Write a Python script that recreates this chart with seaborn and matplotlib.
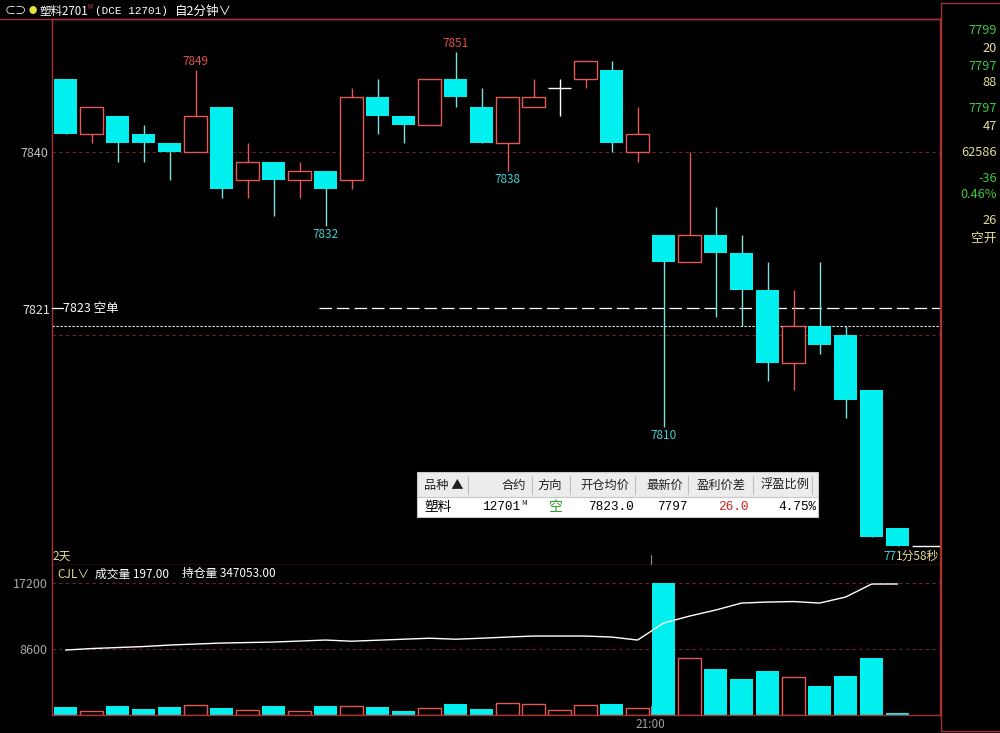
import matplotlib
matplotlib.use("Agg")
import matplotlib.pyplot as plt
import matplotlib.patches as patches
import matplotlib.lines as mlines
import seaborn as sns
import pandas as pd

# 2-minute candles, 塑料2701
opens = [7848, 7842, 7844, 7842, 7841, 7840, 7845, 7837, 7839, 7837, 7838, 7837, 7846, 7844, 7843, 7848, 7845,
         7841, 7845, 7847, 7848, 7849, 7840, 7831, 7828, 7831, 7829, 7825, 7817, 7821, 7820, 7814, 7799]
closes = [7842, 7845, 7841, 7841, 7840, 7844, 7836, 7839, 7837, 7838, 7836, 7846, 7844, 7843, 7848, 7846, 7841,
          7846, 7846, 7847, 7850, 7841, 7842, 7828, 7831, 7829, 7825, 7817, 7821, 7819, 7813, 7798, 7797]
highs = [7848, 7845, 7844, 7843, 7841, 7849, 7845, 7841, 7839, 7839, 7838, 7847, 7848, 7844, 7848, 7851, 7847,
         7846, 7848, 7848, 7850, 7850, 7845, 7831, 7840, 7834, 7831, 7828, 7825, 7828, 7821, 7814, 7799]
lows = [7842, 7841, 7839, 7839, 7837, 7840, 7835, 7835, 7833, 7835, 7832, 7836, 7842, 7841, 7843, 7845, 7841,
        7838, 7845, 7844, 7847, 7840, 7839, 7810, 7828, 7822, 7821, 7815, 7814, 7818, 7811, 7798, 7797]
volumes = [1040, 480, 1170, 780, 1040, 1300, 910, 610, 1170, 480, 1170, 1170, 1040, 560, 910, 1480, 780,
           1560, 1390, 650, 1300, 1430, 890, 17150, 7430, 5990, 4690, 5730, 4950, 3780, 5080, 7430, 197]
open_interest = [343090, 343180, 343240, 343300, 343390, 343450, 343510, 343540, 343570, 343630, 343690,
                 343620, 343680, 343740, 343800, 343740, 343800, 343870, 343930, 343930, 343930, 343870,
                 343690, 344710, 345130, 345490, 345910, 345970, 346000, 345910, 346270, 347050, 347053]

last_price = 7797
entry_price = 7823
dotted_price = 7821
price_grid = [7840, 7820]
vol_ticks = [8600, 17200]
session_tick = 22.5  # boundary before 21:00 bar

high_labels = {5: "7849", 15: "7851"}
low_labels = {10: "7832", 17: "7838", 23: "7810"}

quote_panel = [("7799", 31, "green"), ("20", 48, "yellow"), ("7797", 66, "green"), ("88", 83, "yellow"),
               ("7797", 108, "green"), ("47", 126, "yellow"), ("62586", 152, "yellow"),
               ("-36", 178, "green"), ("0.46%", 194, "green"), ("26", 220, "yellow"), ("空开", 238, "yellow")]

W, H = 1000, 733
CYAN = "#00f0f0"
CYAN_WICK = "#7fe0e0"
RED = "#e25a52"
FRAME = "#a83232"
GRID = "#7a2020"
GREEN = "#3cc83c"
YELLOW = "#e6dc96"
GRAY = "#c0c0c0"

sns.set_theme(style="dark", rc={"axes.facecolor": "black", "figure.facecolor": "black",
                                "savefig.facecolor": "black", "axes.grid": False})
plt.rcParams["font.family"] = ["Noto Sans CJK SC", "DejaVu Sans"]
plt.rcParams["axes.unicode_minus"] = False


def fx(x):
    return x / W


def fy(y):
    return 1 - y / H


df = pd.DataFrame({"i": range(len(opens)), "open": opens, "close": closes,
                   "high": highs, "low": lows, "vol": volumes, "oi": open_interest})

fig = plt.figure(figsize=(W / 100, H / 100), dpi=100)
ax = fig.add_axes([fx(52), fy(565), 888 / W, 546 / H])
vax = fig.add_axes([fx(52), fy(715), 888 / W, 150 / H])

for a in (ax, vax):
    a.set_facecolor("black")
    for s in a.spines.values():
        s.set_color(FRAME)
        s.set_linewidth(1)
    a.tick_params(length=0, colors=GRAY, labelsize=9, pad=3)

# price grid and reference lines
for p in price_grid:
    ax.axhline(p, color=GRID, lw=0.8, ls=(0, (3, 3)), zorder=1)
ax.axhline(dotted_price, color="white", lw=0.8, ls=(0, (2, 1.6)), zorder=1)
ax.plot([9.75, 33.63], [entry_price, entry_price], color="white", lw=0.9, ls=(0, (10, 4)), zorder=1)
ax.plot([-0.52, -0.1], [entry_price, entry_price], color="white", lw=0.9, zorder=3)
ax.text(-0.08, entry_price, "7823 空单", color="white", fontsize=9, va="center", ha="left")

# candles
bw = 0.885
for r in df.itertuples():
    if r.close > r.open:
        wick = RED
    elif r.close < r.open:
        wick = CYAN_WICK
    else:
        wick = "white"
    ax.vlines(r.i, r.low, r.high, color=wick, lw=1, zorder=2)
    if r.close > r.open:
        ax.bar(r.i, r.close - r.open, bottom=r.open, width=bw, facecolor="black",
               edgecolor=RED, lw=1, zorder=3)
    elif r.close < r.open:
        ax.bar(r.i, r.open - r.close, bottom=r.close, width=bw, color=CYAN, lw=0, zorder=3)
    else:
        ax.hlines(r.open, r.i - bw / 2, r.i + bw / 2, color="white", lw=1, zorder=3)

# current price stub
ax.hlines(last_price, len(opens) - bw / 2, len(opens) + 0.63, color="white", lw=1, zorder=3)

for i, t in high_labels.items():
    ax.annotate(t, (i, highs[i]), xytext=(0, 1.5), textcoords="offset points", ha="center",
                va="bottom", color="#e0504a", fontsize=8.5)
for i, t in low_labels.items():
    ax.annotate(t, (i, lows[i]), xytext=(0, -1.5), textcoords="offset points", ha="center",
                va="top", color="#40d0d0", fontsize=8.5)

ax.set_xlim(-0.52, 33.63)
ax.set_ylim(7794.93, 7854.57)
ax.set_xticks([])
ax.set_yticks([7840])
ax.set_yticklabels(["7840"])
ax.text(-0.6, 7822.7, "7821", color="#e0e0e0", fontsize=9, ha="right", va="center")
ax.plot([session_tick, session_tick], [0, 0.018], color="#909090", lw=0.8,
        transform=ax.get_xaxis_transform(), clip_on=False)
ax.text(0.0, 0.005, "2天", transform=ax.transAxes, color=YELLOW, fontsize=8.5, va="bottom", ha="left")

# countdown text under the last bar
fig.text(fx(896), fy(556), "77", color="#40d0d0", fontsize=8.5, va="center", ha="right")
fig.text(fx(939), fy(556), "1分58秒", color=YELLOW, fontsize=8.5, va="center", ha="right")

# volume panel
for v in vol_ticks:
    vax.axhline(v, color=GRID, lw=0.8, ls=(0, (3, 3)), zorder=1)
for r in df.itertuples():
    if r.close >= r.open:
        vax.bar(r.i, r.vol, width=bw, facecolor="black", edgecolor=RED, lw=1, zorder=2)
    else:
        vax.bar(r.i, r.vol, width=bw, color=CYAN, lw=0, zorder=2)
vax.set_xlim(-0.52, 33.63)
vax.set_ylim(0, 19545)
vax.set_yticks(vol_ticks)
vax.set_yticklabels([str(v) for v in vol_ticks])
vax.set_xticks([session_tick])
vax.set_xticklabels(["21:00"])
vax.tick_params(axis="x", pad=2, labelsize=8.5, colors="#a0a0a0")
vax.tick_params(axis="y", colors="#a8a8a8")
vax.plot([session_tick, session_tick], [0, 0.06], color="#909090", lw=0.8,
         transform=vax.get_xaxis_transform(), clip_on=False)
vax.spines["top"].set_visible(False)

oax = vax.twinx()
sns.lineplot(data=df, x="i", y="oi", ax=oax, color="white", lw=1)
oax.set_ylim(339193, 348193)
oax.set_xlim(-0.52, 33.63)
oax.set_yticks([])
oax.set_ylabel("")
vax.set_xlabel("")
for s in oax.spines.values():
    s.set_visible(False)

fig.text(fx(57), fy(574), "CJL∨", color=YELLOW, fontsize=8.5, va="center")
fig.text(fx(95), fy(574), "成交量 197.00", color="white", fontsize=8.5, va="center")
fig.text(fx(182), fy(574), "持仓量 347053.00", color="white", fontsize=8.5, va="center")

# header
fig.add_artist(mlines.Line2D([0, fx(941)], [fy(19), fy(19)], color=FRAME, lw=1))
fig.text(fx(5), fy(11), "⊂⊃", color="white", fontsize=8, va="center")
fig.text(fx(33), fy(11), "●", color="#e8e040", fontsize=6, va="center", ha="center")
fig.text(fx(39), fy(11), "塑料2701", color="white", fontsize=8.3, va="center")
fig.text(fx(87), fy(7), "M", color="#e04040", fontsize=4.5, va="center")
fig.text(fx(95), fy(11), "(DCE 12701)", color="white", fontsize=7.9, va="center", family=["Liberation Mono"])
fig.text(fx(175), fy(11), "自2分钟∨", color="white", fontsize=9, va="center")

# right quote panel
fig.add_artist(patches.Rectangle((fx(941), fy(731)), fx(70), (728) / H, facecolor="black",
                                 edgecolor=FRAME, lw=1, transform=fig.transFigure))
for txt, y, c in quote_panel:
    fig.text(fx(997), fy(y), txt, color=GREEN if c == "green" else YELLOW, fontsize=9.2,
             ha="right", va="center")

# position table
fig.add_artist(patches.Rectangle((fx(417), fy(497)), 401 / W, 25 / H, facecolor="#ececec",
                                 edgecolor="#c8c8c8", lw=0.8, transform=fig.transFigure, zorder=5))
fig.add_artist(patches.Rectangle((fx(417), fy(517)), 401 / W, 20 / H, facecolor="white",
                                 edgecolor="#c8c8c8", lw=0.8, transform=fig.transFigure, zorder=5))
for sx in [468, 532, 570, 635, 688, 753, 812]:
    fig.add_artist(mlines.Line2D([fx(sx), fx(sx)], [fy(476), fy(494)], color="#c0c0c0", lw=0.8, zorder=6))
headers = [("品种 ▲", 424, "left"), ("合约", 526, "right"), ("方向", 550, "center"),
           ("开仓均价", 629, "right"), ("最新价", 683, "right"), ("盈利价差", 746, "right"),
           ("浮盈比例", 810, "right")]
for t, x, ha in headers:
    fig.text(fx(x), fy(485), t, color="#202020", fontsize=8.8, ha=ha, va="center", zorder=7)
fig.text(fx(424), fy(507), "塑料", color="black", fontsize=9.8, ha="left", va="center", zorder=7)
mono = ["Liberation Mono"]
cells = [("12701", 520, "black"), ("7823.0", 634, "black"), ("7797", 688, "black"),
         ("26.0", 749, "#d02020"), ("4.75%", 816, "black")]
for t, x, c in cells:
    fig.text(fx(x), fy(507), t, color=c, fontsize=9.2, ha="right", va="center", family=mono, zorder=7)
fig.text(fx(521), fy(503), "M", color="black", fontsize=5, ha="left", va="center", zorder=7)
fig.text(fx(556), fy(507), "空", color="#20a020", fontsize=10, ha="center", va="center", zorder=7)

fig.savefig("out.png", dpi=100, facecolor="black")
